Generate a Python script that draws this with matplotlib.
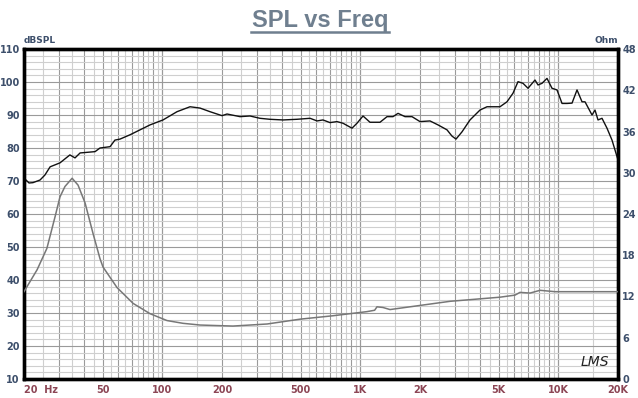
import numpy as np
import matplotlib
matplotlib.use('Agg')
import matplotlib.pyplot as plt
from matplotlib.lines import Line2D

# SPL curve (Hz, dB)
spl_freq = [20, 21.2, 22.2, 24.1, 25.5, 27.1, 30.4, 34.1, 36.2, 38.4, 45.7, 48.4,
            54.4, 57.6, 61.1, 68.6, 86.6, 100.7, 118.5, 137.9, 154.9, 174, 200,
            212, 246.6, 277, 311, 349, 407, 478, 557, 604, 647, 702, 762, 817,
            907, 961, 1031, 1118, 1256, 1363, 1461, 1549, 1680, 1822, 2000, 2247,
            2466, 2738, 2902, 3040, 3260, 3577, 4018, 4360, 5070, 5500, 5898,
            6252, 6627, 7024, 7618, 7890, 8265, 8758, 9283, 9839, 10432, 11054,
            11718, 12418, 13162, 13628, 14785, 15308, 15851, 16606, 17600,
            18652, 20000]
spl_db = [70.9, 69.4, 69.5, 70.3, 71.8, 74.3, 75.5, 77.9, 77.0, 78.5, 78.9, 80.0,
          80.4, 82.4, 82.7, 84.0, 87.0, 88.5, 91.0, 92.5, 92.1, 91.0, 89.8,
          90.3, 89.5, 89.7, 89.0, 88.7, 88.5, 88.7, 89.0, 88.2, 88.5, 87.7, 88.0,
          87.5, 86.0, 87.5, 89.7, 87.8, 87.8, 89.5, 89.5, 90.5, 89.5, 89.5, 88.0,
          88.2, 87.0, 85.5, 83.6, 82.7, 84.9, 88.5, 91.5, 92.5, 92.5, 94.0,
          96.6, 100.1, 99.6, 98.1, 100.6, 99.1, 99.6, 101.1, 98.1, 97.6, 93.5,
          93.5, 93.6, 97.6, 94.0, 94.0, 90.0, 91.5, 88.5, 89.0, 86.0, 82.4, 76.4]

# impedance curve (Hz, Ohm)
imp_freq = [20, 23.3, 26.1, 28.7, 30.4, 32.2, 35.0, 37.5, 40.7, 44.6, 48.4, 50.1,
            59.0, 71.1, 86.6, 105.5, 127, 154.9, 227, 338, 495, 727, 1080, 1180,
            1213, 1301, 1411, 1585, 2836, 5070, 6036, 6397, 7188, 8077, 9613, 20000]
imp_ohm = [12.7, 15.9, 19.0, 23.6, 26.5, 28.0, 29.2, 28.2, 25.6, 21.2, 17.5, 16.3,
           13.3, 11.0, 9.5, 8.5, 8.1, 7.85, 7.7, 8.0, 8.7, 9.2, 9.8, 10.0,
           10.5, 10.4, 10.1, 10.3, 11.3, 11.9, 12.2, 12.6, 12.5, 12.9, 12.7, 12.7]

x_ticks = [20, 50, 100, 200, 500, 1000, 2000, 5000, 10000, 20000]
x_labels = ['20  Hz', '50', '100', '200', '500', '1K', '2K', '5K', '10K', '20K']
db_ticks = list(range(10, 111, 10))
ohm_ticks = list(range(0, 49, 6))

axis_col = '#3d4f6b'
freq_col = '#8c4655'

fig = plt.figure(figsize=(6.38, 3.98), dpi=100)
ax = fig.add_axes([24 / 638, 19 / 398, 594 / 638, 330 / 398])
ax.set_xscale('log')
ax.set_xlim(20, 20000)
ax.set_ylim(10, 110)

# grid: darker at 1..9 x decade, lighter at the halves
for dec in [10, 100, 1000, 10000]:
    for m in np.arange(1, 10.01, 0.5):
        f = dec * m
        if 20 < f < 20000:
            major = float(m).is_integer()
            ax.axvline(f, color='#9a9a9a' if major else '#cfcfcf', lw=0.8, zorder=0)
for v in range(12, 110, 2):
    ax.axhline(v, color='#9a9a9a' if v % 10 == 0 else '#cfcfcf', lw=0.8, zorder=0)

ax.plot(spl_freq, spl_db, color='#111111', lw=1.0, zorder=3)

ax.set_xticks(x_ticks)
ax.set_xticklabels(x_labels)
ax.xaxis.set_minor_locator(matplotlib.ticker.NullLocator())
ax.set_yticks(db_ticks)
ax.tick_params(axis='x', length=0, pad=4, labelsize=7, labelcolor=freq_col)
ax.tick_params(axis='y', length=0, pad=3, labelsize=7, labelcolor=axis_col)
for t in ax.get_xticklabels():
    t.set_fontweight('bold')
ax.get_xticklabels()[0].set_horizontalalignment('left')
for t in ax.get_yticklabels():
    t.set_fontweight('bold')

ax2 = ax.twinx()
ax2.set_ylim(0, 48)
ax2.set_yticks(ohm_ticks)
ax2.tick_params(axis='y', length=0, pad=3, labelsize=7, labelcolor=axis_col)
for t in ax2.get_yticklabels():
    t.set_fontweight('bold')
ax2.plot(imp_freq, imp_ohm, color='#777777', lw=1.1, zorder=3)

for a in (ax, ax2):
    for s in a.spines.values():
        s.set_linewidth(2.4)
        s.set_color('black')

ax.text(0.0, 1.012, 'dBSPL', transform=ax.transAxes, fontsize=6.5,
        color=axis_col, fontweight='bold', ha='left', va='bottom')
ax.text(1.0, 1.012, 'Ohm', transform=ax.transAxes, fontsize=6.5,
        color=axis_col, fontweight='bold', ha='right', va='bottom')
ax.text(0.985, 0.05, 'LMS', transform=ax.transAxes, fontsize=10,
        color='#222222', style='italic', ha='right', va='center')

fig.text(320 / 638, 1 - 21 / 398, 'SPL vs Freq', fontsize=17, fontweight='bold',
         color='#6f7f8f', ha='center', va='center', family='Liberation Sans')
fig.add_artist(Line2D([251 / 638, 389 / 638], [1 - 32 / 398, 1 - 32 / 398],
                      color='#6f7f8f', lw=1.8))

fig.savefig('out.png', dpi=100, facecolor='white')
